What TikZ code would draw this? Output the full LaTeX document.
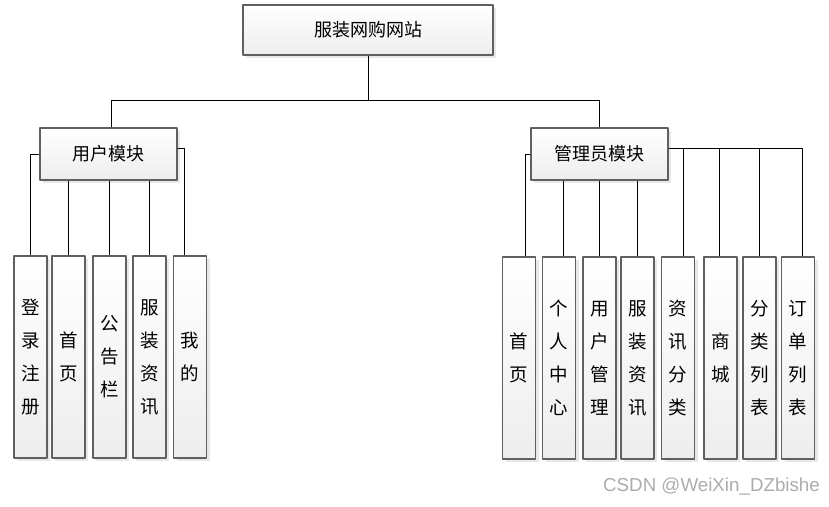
\documentclass[tikz,border=0pt]{standalone}
\usepackage{fontspec}
\newfontfamily\cjk{Noto Sans CJK SC}
\setsansfont{Liberation Sans}
\usetikzlibrary{shadows}
\tikzset{
  box/.style={draw=gray!75!black, line width=1.2pt, top color=white, bottom color=gray!14,
    drop shadow={shadow xshift=3pt, shadow yshift=-3pt, fill=gray!35, opacity=.5},
    inner sep=0pt, align=center, font=\cjk\fontsize{18}{33}\selectfont},
  modbox/.style={box, minimum width=137pt, minimum height=52pt},
  leafbox/.style={box, minimum width=33pt, minimum height=202pt, font=\cjk\fontsize{18.5}{33}\selectfont},
  link/.style={line width=1pt, black}
}
\begin{document}
\begin{tikzpicture}[x=1pt, y=-1pt, line join=round]
\useasboundingbox (0,0) rectangle (829,506);
\node[box, minimum width=250pt, minimum height=50pt] (site) at (368,30) {服装网购网站};
\node[modbox] (user) at (108.5,154) {用户模块};
\node[modbox] (admin) at (599.5,154) {管理员模块};
% user side
\node[leafbox] (u1) at (30.5,357) {登\\录\\注\\册};
\node[leafbox] (u2) at (68.5,357) {首\\页};
\node[leafbox] (u3) at (109.5,357) {公\\告\\栏};
\node[leafbox] (u4) at (149.5,357) {服\\装\\资\\讯};
\node[leafbox] (u5) at (190,357) {我\\的};
% admin side
\node[leafbox] (a1) at (519,358) {首\\页};
\node[leafbox] (a2) at (559,358) {个\\人\\中\\心};
\node[leafbox] (a3) at (599.5,358) {用\\户\\管\\理};
\node[leafbox] (a4) at (637.5,358) {服\\装\\资\\讯};
\node[leafbox] (a5) at (678,358) {资\\讯\\分\\类};
\node[leafbox] (a6) at (720.5,358) {商\\城};
\node[leafbox] (a7) at (759.5,358) {分\\类\\列\\表};
\node[leafbox] (a8) at (798,358) {订\\单\\列\\表};
\node[font=\sffamily\fontsize{18.75}{20}\selectfont, text=gray!65] (mark) at (711.5,487) {CSDN @WeiXin\_DZbishe};

\draw[link] (site.south) -- ++(0,45) coordinate (bus);
\draw[link] ([xshift=2.5pt]user.north) |- (bus) -| (admin.north);

\draw[link] (user.west) -| (u1.north);
\draw[link] (u2.north) -- (u2.north |- user.south);
\draw[link] (u3.north) -- (u3.north |- user.south);
\draw[link] (u4.north) -- (u4.north |- user.south);
\draw[link] ([yshift=6pt]user.east) -| ([xshift=-6pt]u5.north);

\draw[link] (admin.west) -| ([xshift=6pt]a1.north);
\draw[link] ([xshift=4pt]a2.north) -- ([xshift=4pt]a2.north |- admin.south);
\draw[link] (a3.north) -- (a3.north |- admin.south);
\draw[link] (a4.north) -- (a4.north |- admin.south);
\draw[link] ([yshift=6pt]admin.east) -| ([xshift=5pt]a5.north);
\draw[link] ([yshift=6pt]admin.east) -| ([xshift=-1.5pt]a6.north);
\draw[link] ([yshift=6pt]admin.east) -| (a7.north);
\draw[link] ([yshift=6pt]admin.east) -| ([xshift=4pt]a8.north);
\end{tikzpicture}
\end{document}
